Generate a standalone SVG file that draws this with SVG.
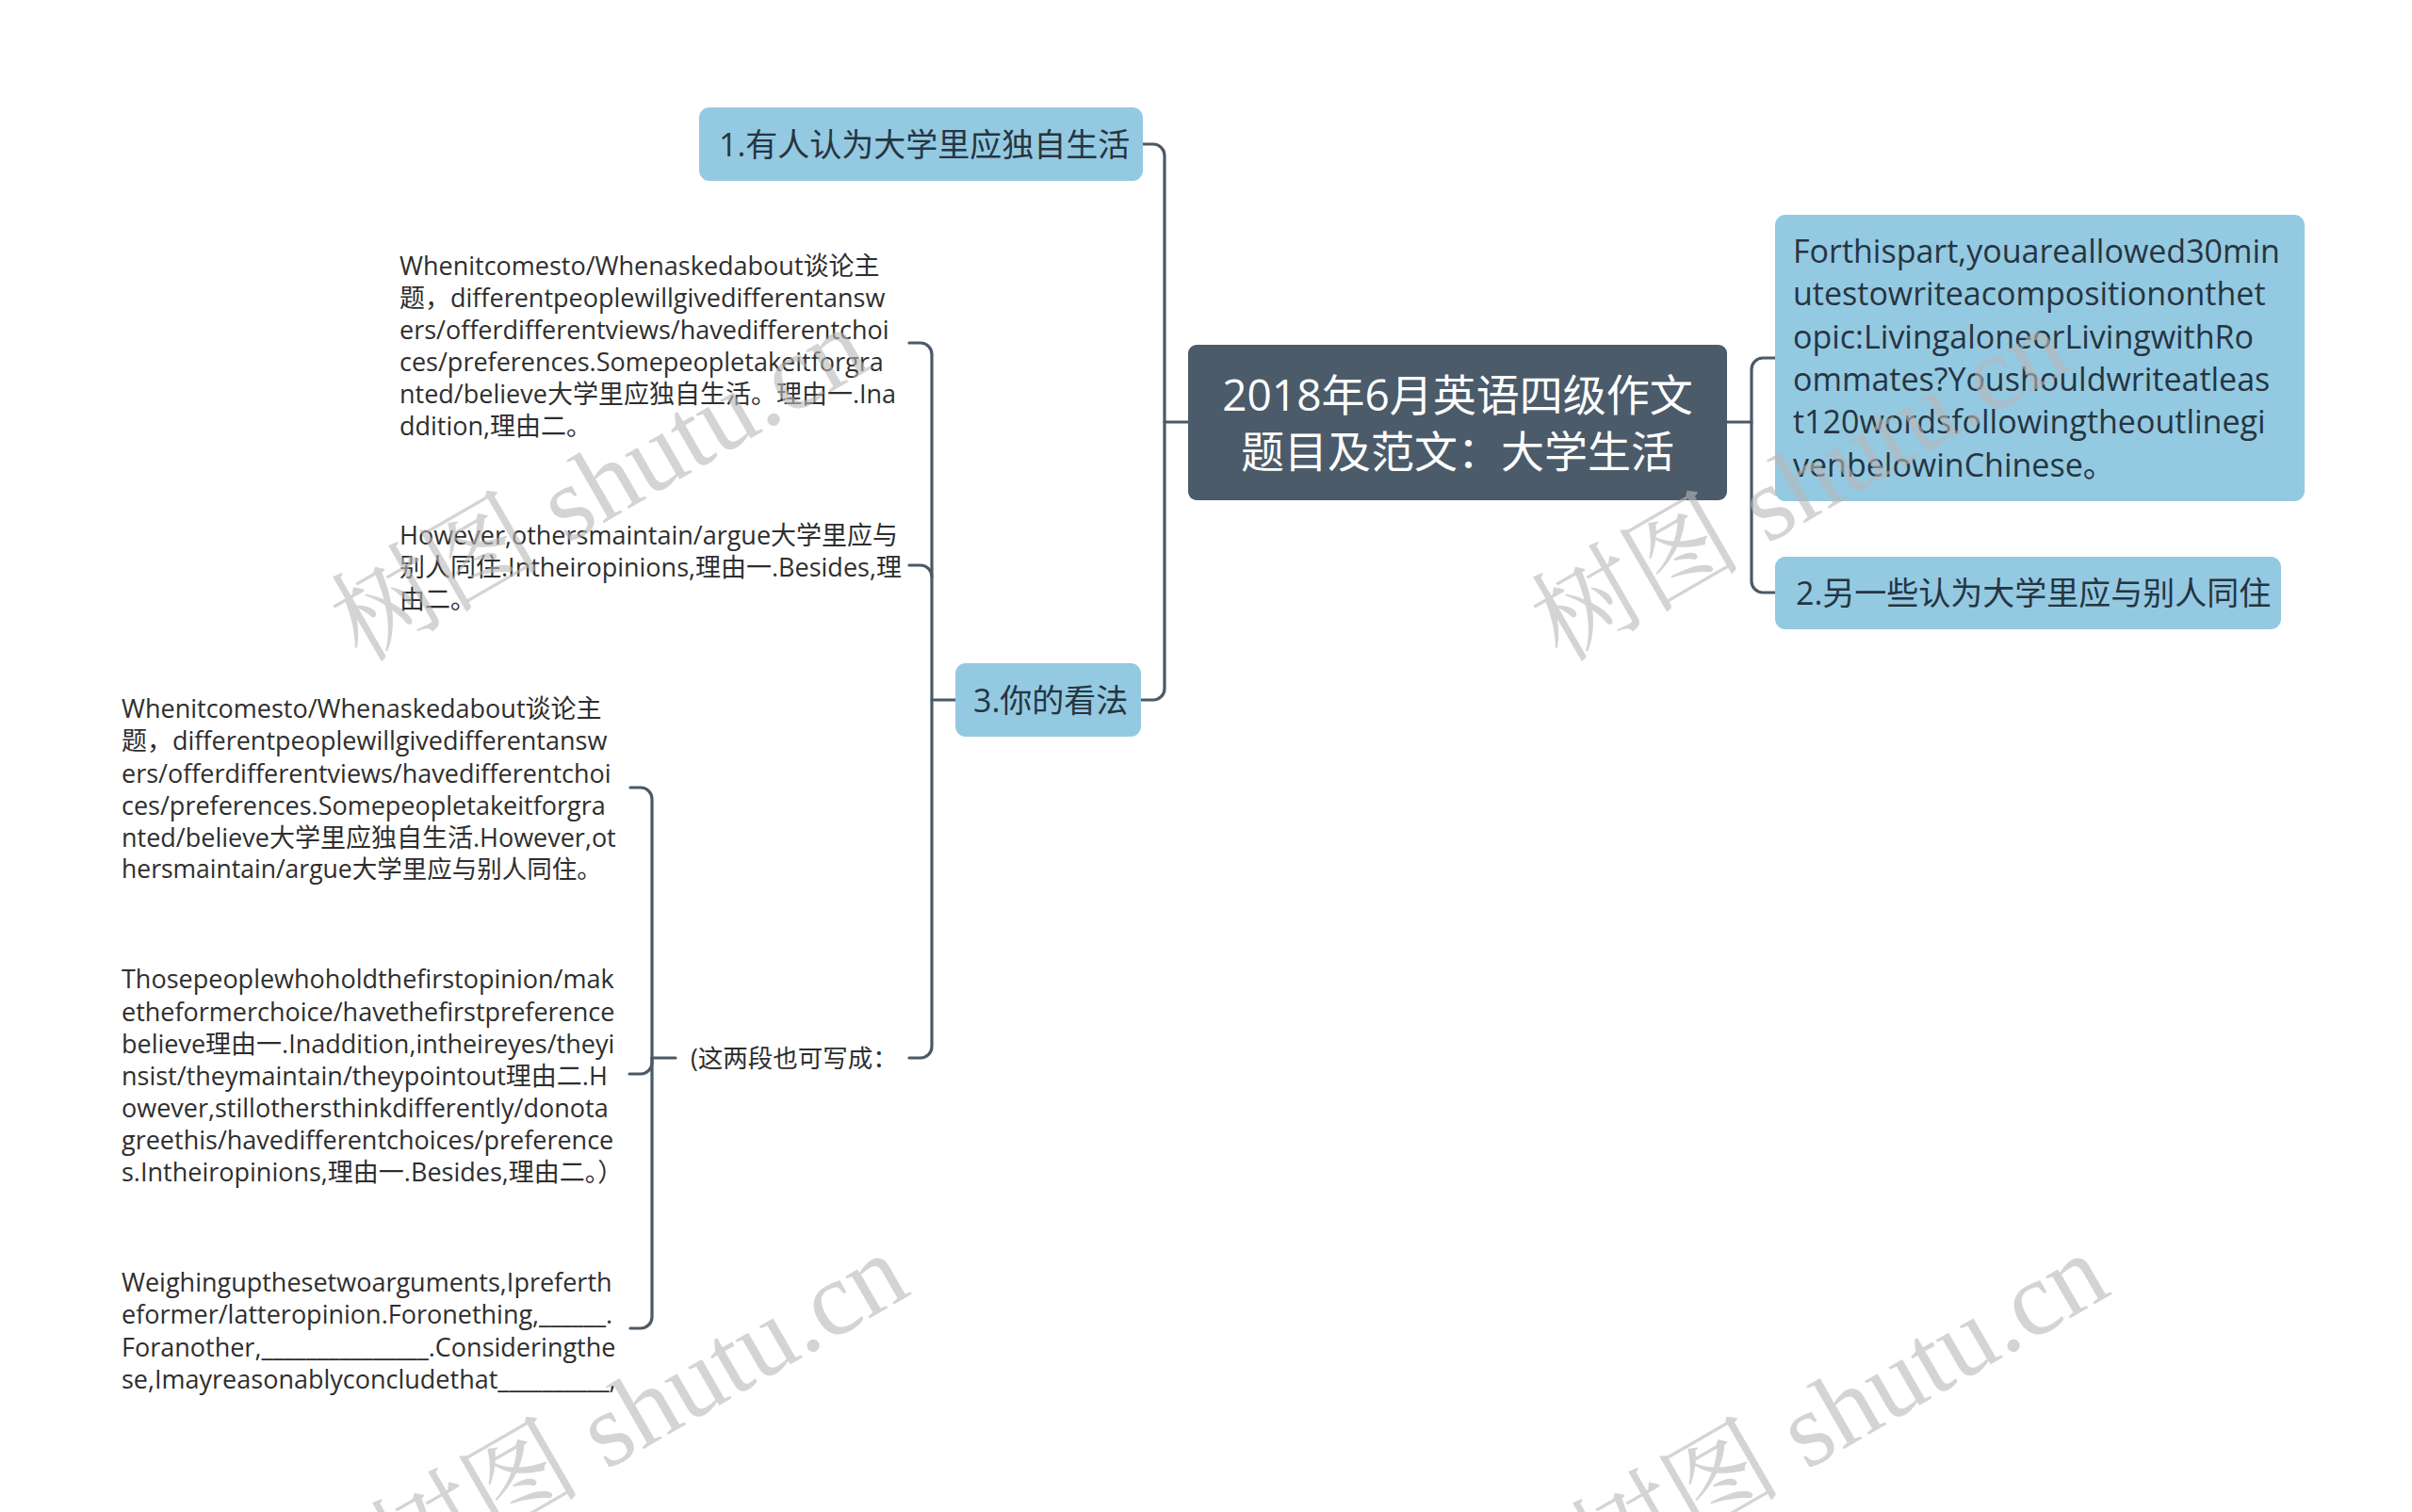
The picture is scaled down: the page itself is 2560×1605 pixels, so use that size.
<svg xmlns="http://www.w3.org/2000/svg" width="2560" height="1605" viewBox="0 0 2560 1605">
<style>
.bg{fill:#ffffff}
.root rect{fill:#4b5b6a}
.blue rect{fill:#94c9e2}
.rt{font-family:"Open Sans","Noto Sans CJK SC",sans-serif;font-size:46px;fill:#ffffff;text-anchor:middle;dominant-baseline:central}
.nt{font-family:"Open Sans","Noto Sans CJK SC",sans-serif;font-size:34px;fill:#263540;dominant-baseline:central}
.bt{font-family:"Open Sans","Noto Sans CJK SC",sans-serif;font-size:27px;fill:#2e2e2e;dominant-baseline:central}
.bs{font-size:26.5px}
.conn path{fill:none;stroke:#4b5a68;stroke-width:3.2;stroke-linecap:round}
.wm{font-family:"Liberation Serif","Noto Serif CJK SC","Noto Sans CJK SC",serif;font-size:112px;fill:#b8b8b8;opacity:0.6}
</style>
<rect class="bg" x="0" y="0" width="2560" height="1605"/>

<g id="connectors" class="conn">
<path d="M1213,153 H1224 A12,12 0 0 1 1236,165 V731 A12,12 0 0 1 1224,743 H1211"/>
<path d="M1236,448 H1261"/>
<path d="M1833,448 H1859"/>
<path d="M1884,380 H1871 A12,12 0 0 0 1859,392 V617 A12,12 0 0 0 1871,629 H1884"/>
<path d="M1014,743 H989"/>
<path d="M965,364 H977 A12,12 0 0 1 989,376 V1111 A12,12 0 0 1 977,1123 H965"/>
<path d="M965,600 H977 A12,12 0 0 1 989,612"/>
<path d="M717,1123 H692"/>
<path d="M669,836 H680 A12,12 0 0 1 692,848 V1398 A12,12 0 0 1 680,1410 H669"/>
<path d="M692,1123 V1128 A12,12 0 0 1 680,1140 H668"/>
</g>

<g id="root" class="root">
<rect x="1261" y="366" width="572" height="165" rx="9"/>
<text class="rt" x="1547" y="418">2018年6月英语四级作文</text>
<text class="rt" x="1547" y="478">题目及范文：大学生活</text>
</g>

<g id="n1" class="blue">
<rect x="742" y="114" width="471" height="78" rx="11"/>
<text class="nt" x="763" y="153">1.有人认为大学里应独自生活</text>
</g>

<g id="n3" class="blue">
<rect x="1014" y="704" width="197" height="78" rx="11"/>
<text class="nt" x="1033" y="743">3.你的看法</text>
</g>

<g id="nr" class="blue">
<rect x="1884" y="228" width="562" height="304" rx="11"/>
<text class="nt" x="1903" y="266">Forthispart,youareallowed30min</text>
<text class="nt" x="1903" y="311">utestowriteacompositiononthet</text>
<text class="nt" x="1903" y="357">opic:LivingaloneorLivingwithRo</text>
<text class="nt" x="1903" y="402">ommates?Youshouldwriteatleas</text>
<text class="nt" x="1903" y="447">t120wordsfollowingtheoutlinegi</text>
<text class="nt" x="1903" y="493">venbelowinChinese。</text>
</g>

<g id="n2" class="blue">
<rect x="1884" y="591" width="537" height="77" rx="11"/>
<text class="nt" x="1906" y="629">2.另一些认为大学里应与别人同住</text>
</g>

<g id="t1">
<text class="bt" x="424" y="281">Whenitcomesto/Whenaskedabout谈论主</text>
<text class="bt" x="424" y="315">题，differentpeoplewillgivedifferentansw</text>
<text class="bt" x="424" y="349">ers/offerdifferentviews/havedifferentchoi</text>
<text class="bt" x="424" y="383">ces/preferences.Somepeopletakeitforgra</text>
<text class="bt" x="424" y="417">nted/believe大学里应独自生活。理由一.Ina</text>
<text class="bt" x="424" y="451">ddition,理由二。</text>
</g>

<g id="t2">
<text class="bt" x="424" y="567">However,othersmaintain/argue大学里应与</text>
<text class="bt" x="424" y="601">别人同住.Intheiropinions,理由一.Besides,理</text>
<text class="bt" x="424" y="635">由二。</text>
</g>

<g id="t3">
<text class="bt bs" x="733" y="1123">(这两段也可写成：</text>
</g>

<g id="tA">
<text class="bt" x="129" y="751">Whenitcomesto/Whenaskedabout谈论主</text>
<text class="bt" x="129" y="785">题，differentpeoplewillgivedifferentansw</text>
<text class="bt" x="129" y="820">ers/offerdifferentviews/havedifferentchoi</text>
<text class="bt" x="129" y="854">ces/preferences.Somepeopletakeitforgra</text>
<text class="bt" x="129" y="888">nted/believe大学里应独自生活.However,ot</text>
<text class="bt bs" x="129" y="922">hersmaintain/argue大学里应与别人同住。</text>
</g>

<g id="tB">
<text class="bt" x="129" y="1038">Thosepeoplewhoholdthefirstopinion/mak</text>
<text class="bt" x="129" y="1073">etheformerchoice/havethefirstpreference</text>
<text class="bt" x="129" y="1107">believe理由一.Inaddition,intheireyes/theyi</text>
<text class="bt" x="129" y="1141">nsist/theymaintain/theypointout理由二.H</text>
<text class="bt" x="129" y="1175">owever,stillothersthinkdifferently/donota</text>
<text class="bt" x="129" y="1209">greethis/havedifferentchoices/preference</text>
<text class="bt" x="129" y="1243">s.Intheiropinions,理由一.Besides,理由二。）</text>
</g>

<g id="tC">
<text class="bt" x="129" y="1360">Weighingupthesetwoarguments,Ipreferth</text>
<text class="bt" x="129" y="1394">eformer/latteropinion.Foronething,______.</text>
<text class="bt" x="129" y="1429">Foranother,_______________.Consideringthe</text>
<text class="bt" x="129" y="1463">se,Imayreasonablyconcludethat__________,</text>
</g>

<g id="watermarks">
<text class="wm" transform="translate(383,704) rotate(-30)">树图 shutu.cn</text>
<text class="wm" transform="translate(1657,704) rotate(-30)">树图 shutu.cn</text>
<text class="wm" transform="translate(425,1687) rotate(-30)">树图 shutu.cn</text>
<text class="wm" transform="translate(1699,1687) rotate(-30)">树图 shutu.cn</text>
</g>
</svg>
